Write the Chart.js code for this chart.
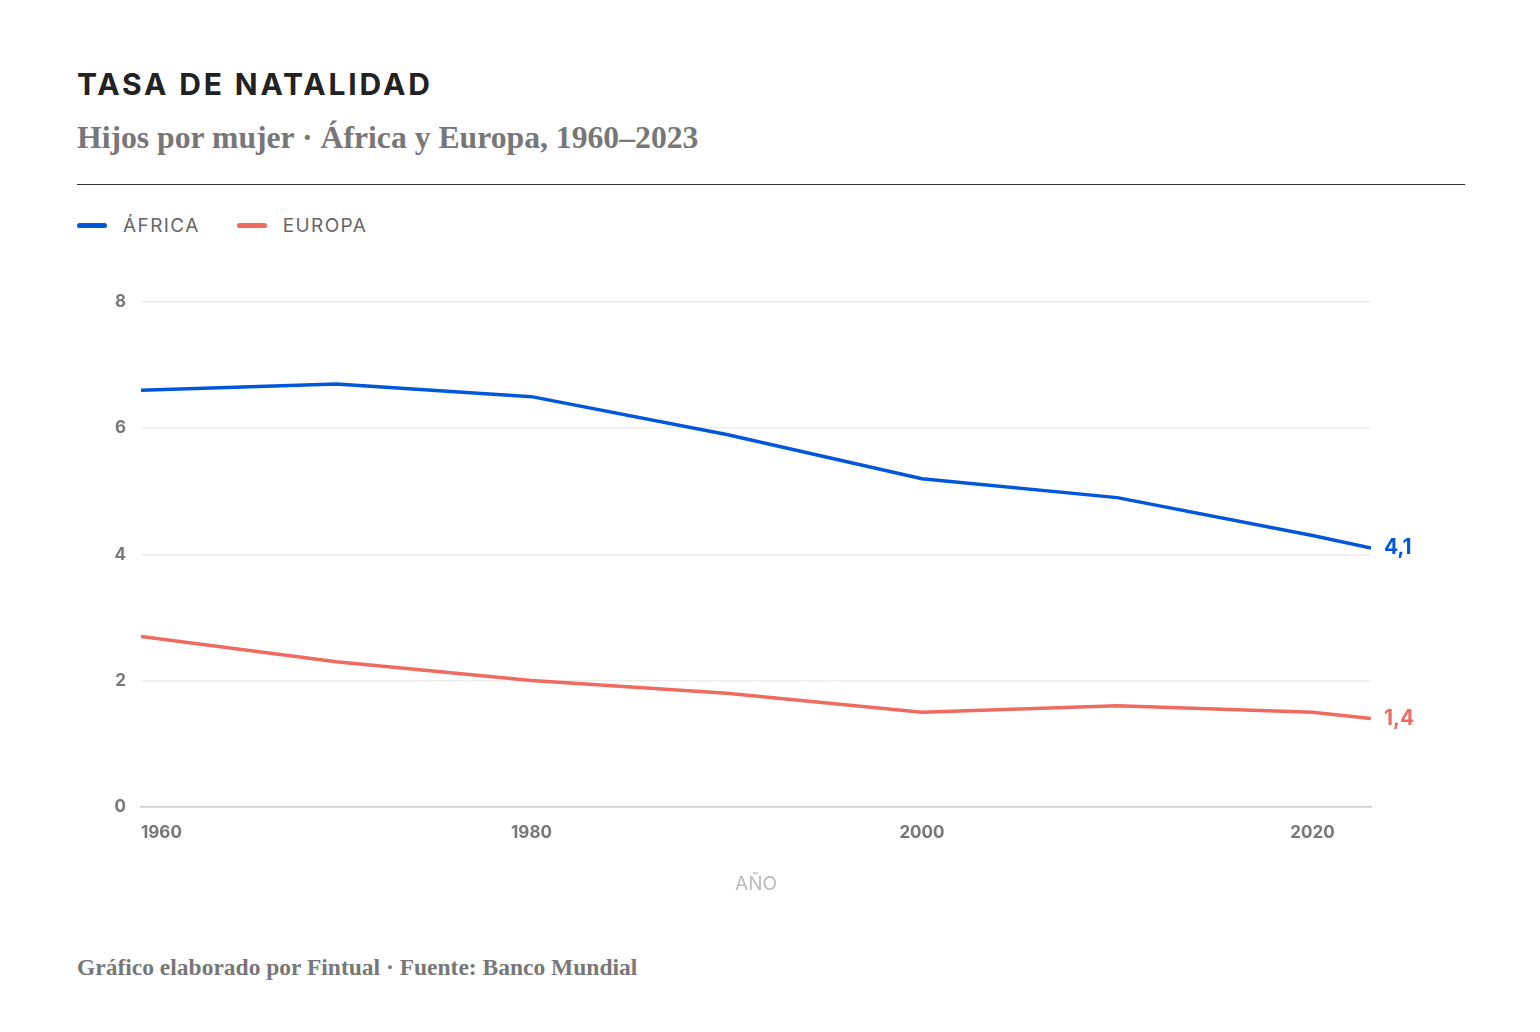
<!DOCTYPE html>
<html lang="es">
<head>
<meta charset="utf-8">
<title>Tasa de natalidad</title>
<script src="https://cdn.jsdelivr.net/npm/chart.js@4.4.1/dist/chart.umd.min.js"></script>
<style>
  html, body { margin: 0; padding: 0; background: #fff; }
  body { width: 1540px; height: 1032px; position: relative; overflow: hidden; }
  .title {
    position: absolute; left: 77px; top: 66px; margin: 0;
    font-family: Inter, sans-serif; font-weight: 700; font-size: 30px;
    letter-spacing: 2.85px; color: #222;
  }
  .subtitle {
    position: absolute; left: 77px; top: 120px; margin: 0;
    font-family: "Liberation Serif", serif; font-weight: 700; font-size: 31.7px;
    color: #777;
  }
  .rule { position: absolute; left: 77px; top: 184px; width: 1388px; height: 1px; background: #333; }
  .legend { position: absolute; left: 77px; top: 214px; display: flex; gap: 37px; }
  .legend span {
    display: flex; align-items: center; gap: 16px;
    font-family: Inter, sans-serif; font-size: 19px; letter-spacing: 1.4px; color: #666;
  }
  .legend i { display: inline-block; width: 30px; height: 5px; border-radius: 3px; }
  .wrap { position: absolute; left: 77px; top: 260px; width: 1388px; height: 640px; }
  .footer {
    position: absolute; left: 77px; top: 954px; margin: 0;
    font-family: "Liberation Serif", serif; font-weight: 700; font-size: 23.5px; color: #777;
  }
</style>
</head>
<body>
<h1 class="title">TASA DE NATALIDAD</h1>
<p class="subtitle">Hijos por mujer · África y Europa, 1960–2023</p>
<div class="rule"></div>
<div class="legend">
  <span><i style="background:#0057d9"></i>ÁFRICA</span>
  <span><i style="background:#ef6a5f"></i>EUROPA</span>
</div>
<div class="wrap"><canvas id="birthChart"></canvas></div>
<p class="footer">Gráfico elaborado por Fintual · Fuente: Banco Mundial</p>

<script>
const years = [1960, 1970, 1980, 1990, 2000, 2010, 2020, 2023]
const africa = [6.6, 6.7, 6.5, 5.9, 5.2, 4.9, 4.3, 4.1]
const europe = [2.7, 2.3, 2.0, 1.8, 1.5, 1.6, 1.5, 1.4]
const xTicks = [1960, 1980, 2000, 2020]
const yTicks = [0, 2, 4, 6, 8]

const blue = '#0057d9'
const red = '#ef6a5f'

// writes the last value next to the end of each line
const endLabels = {
    id: 'endLabels',
    afterDatasetsDraw(chart) {
        const ctx = chart.ctx
        ctx.save()
        ctx.font = '700 21px Inter, sans-serif'
        ctx.textAlign = 'left'
        ctx.textBaseline = 'middle'
        chart.data.datasets.forEach((ds, i) => {
            const pts = chart.getDatasetMeta(i).data
            const last = pts[pts.length - 1]
            const value = ds.data[ds.data.length - 1].y
            ctx.fillStyle = ds.borderColor
            ctx.fillText(value.toFixed(1).replace('.', ','), last.x + 13, last.y)
        })
        ctx.restore()
    }
}

new Chart(document.getElementById('birthChart'), {
    type: 'line',
    data: {
        datasets: [
            {
                label: 'África',
                data: years.map((y, i) => ({ x: y, y: africa[i] })),
                borderColor: blue,
                borderWidth: 3.5,
                pointRadius: 0,
                tension: 0
            },
            {
                label: 'Europa',
                data: years.map((y, i) => ({ x: y, y: europe[i] })),
                borderColor: red,
                borderWidth: 3.5,
                pointRadius: 0,
                tension: 0
            }
        ]
    },
    options: {
        responsive: true,
        maintainAspectRatio: false,
        animation: false,
        layout: { padding: { top: 42, right: 94, left: 0, bottom: 0 } },
        plugins: {
            legend: { display: false },
            tooltip: { enabled: false }
        },
        scales: {
            x: {
                type: 'linear',
                min: 1960,
                max: 2023,
                afterBuildTicks: (scale) => {
                    scale.ticks = xTicks.map(v => ({ value: v })).concat([{ value: 2023 }])
                },
                ticks: {
                    autoSkip: false,
                    align: 'inner',
                    padding: 16,
                    color: '#777',
                    font: { family: 'Inter, sans-serif', size: 17, weight: '700' },
                    callback: (v) => xTicks.includes(v) ? String(v) : ''
                },
                grid: { display: false, drawTicks: false },
                border: { color: '#ccc', width: 1.5 },
                title: {
                    display: true,
                    text: 'AÑO',
                    color: '#bbb',
                    padding: { top: 14 },
                    font: { family: 'Inter, sans-serif', size: 19 }
                }
            },
            y: {
                min: 0,
                max: 8,
                afterBuildTicks: (scale) => {
                    scale.ticks = yTicks.map(v => ({ value: v }))
                },
                afterFit: (scale) => { scale.width = 64 },
                ticks: {
                    padding: 15,
                    color: '#777',
                    font: { family: 'Inter, sans-serif', size: 17, weight: '700' }
                },
                grid: { color: '#ececec', lineWidth: 1.5, drawTicks: false },
                border: { display: false }
            }
        }
    },
    plugins: [endLabels]
})
</script>
</body>
</html>
